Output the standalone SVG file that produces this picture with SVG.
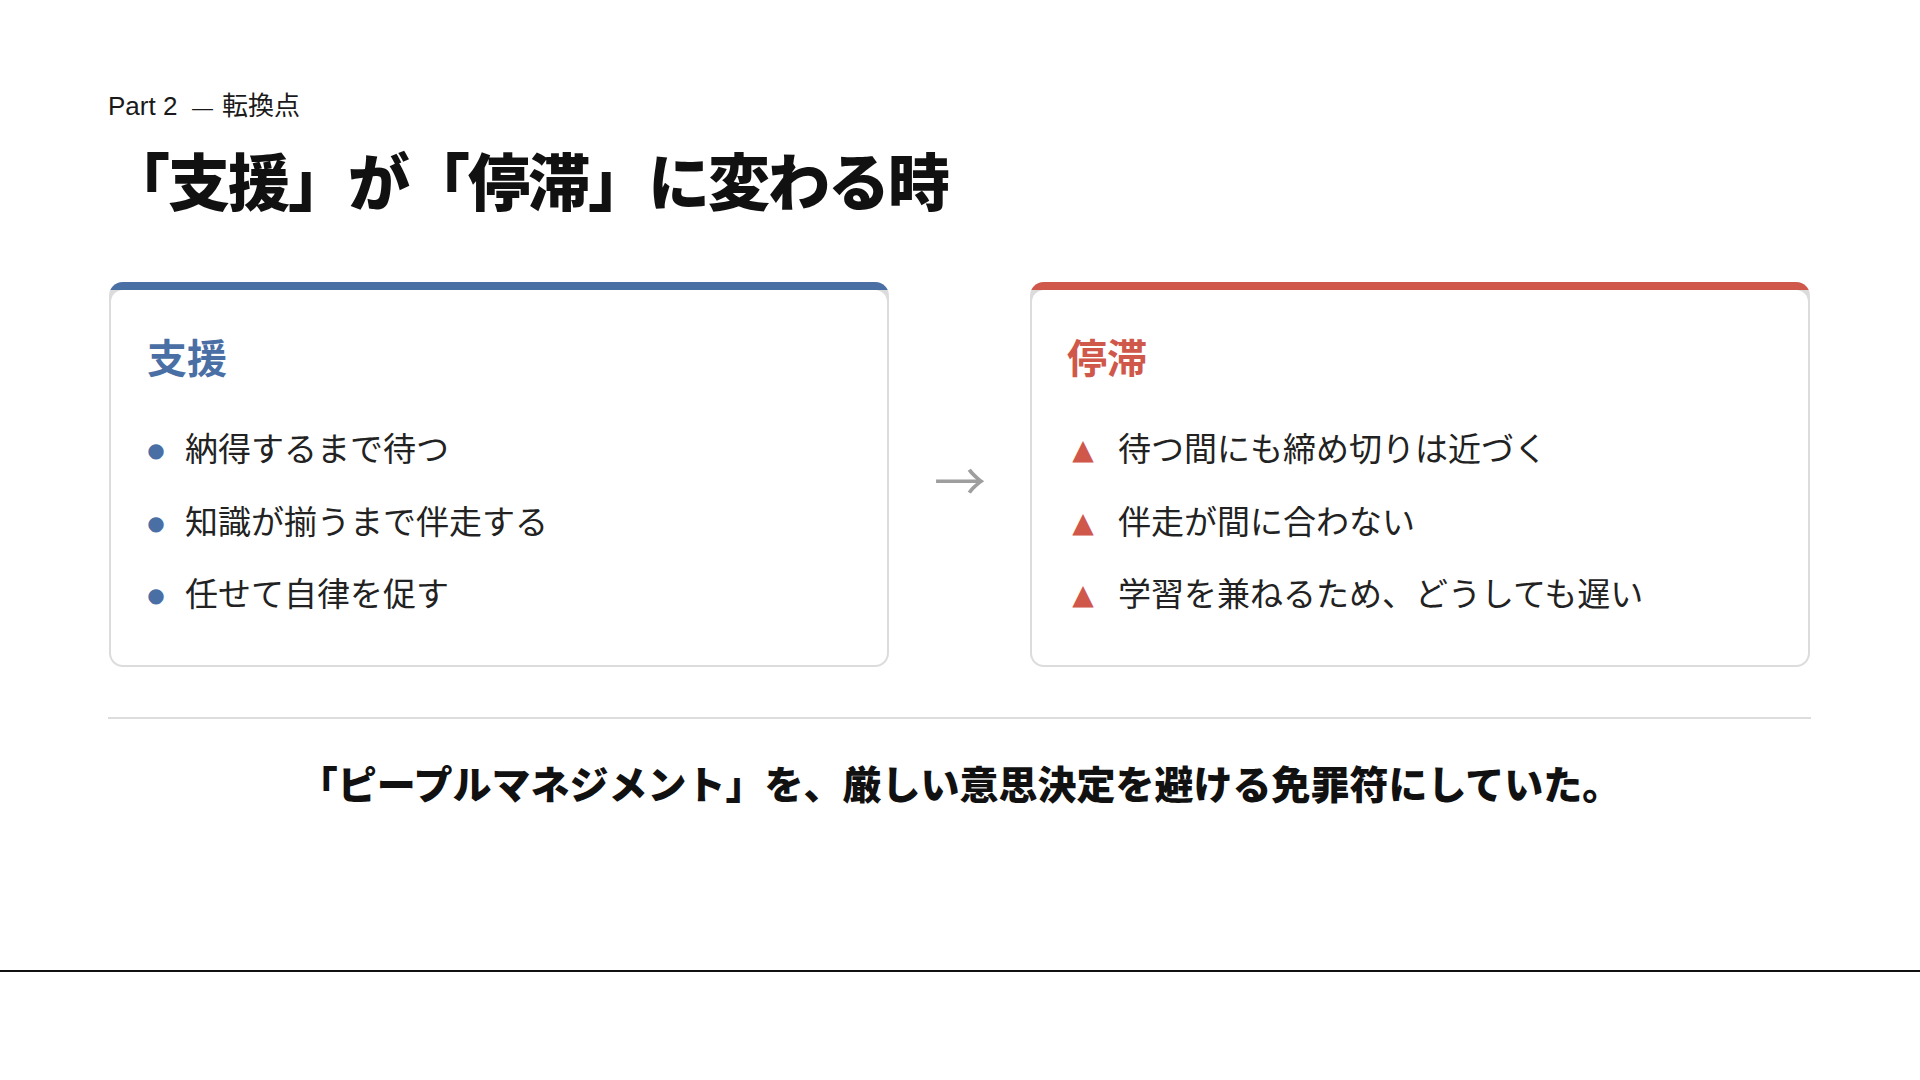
<svg xmlns="http://www.w3.org/2000/svg" width="1920" height="1080" viewBox="0 0 1920 1080">
<style>
.jp{font-family:"Noto Sans CJK JP","Noto Sans CJK SC",sans-serif}
.eyebrow{font-family:"Liberation Sans","Noto Sans CJK JP",sans-serif;font-size:26px;fill:#1a1a1a}
.title{font-size:62px;font-weight:900;fill:#111;letter-spacing:-2px}
.ctitle{font-size:40px;font-weight:700}
.item{font-size:33px;fill:#222}
.blue{fill:#4a6fa5}
.red{fill:#d0584b}
.bullet{font-family:"DejaVu Sans",sans-serif}
.border{fill:#dcdcdc}
.inner{fill:#ffffff}
.concl{font-size:39px;font-weight:900;fill:#111}
</style>
<defs>
<clipPath id="clipL"><rect x="109" y="282" width="780" height="385" rx="14"/></clipPath>
<clipPath id="clipR"><rect x="1030" y="282" width="780" height="385" rx="14"/></clipPath>
</defs>
<rect width="1920" height="1080" fill="#ffffff"/>

<g id="header">
<text class="eyebrow" y="115"><tspan x="108">Part 2</tspan><tspan x="192" font-size="21">—</tspan><tspan class="jp" x="222">転換点</tspan></text>
<text class="jp title" x="108" y="206">「支援」が「停滞」に変わる時</text>
</g>

<g id="card-support">
<rect class="border" x="109" y="282" width="780" height="385" rx="14"/>
<rect class="blue" x="109" y="282" width="780" height="8" clip-path="url(#clipL)"/>
<rect class="inner" x="111" y="290" width="776" height="375" rx="12"/>
<text class="jp ctitle blue" x="147" y="373">支援</text>
<text class="bullet blue" x="156" y="457" font-size="20" text-anchor="middle">●</text>
<text class="jp item" x="185" y="461">納得するまで待つ</text>
<text class="bullet blue" x="156" y="530" font-size="20" text-anchor="middle">●</text>
<text class="jp item" x="185" y="534">知識が揃うまで伴走する</text>
<text class="bullet blue" x="156" y="602" font-size="20" text-anchor="middle">●</text>
<text class="jp item" x="185" y="606">任せて自律を促す</text>
</g>

<g id="connectors">
<text class="jp" x="960" y="501" font-size="52" fill="#9e9e9e" text-anchor="middle">→</text>
</g>

<g id="card-stagnation">
<rect class="border" x="1030" y="282" width="780" height="385" rx="14"/>
<rect class="red" x="1030" y="282" width="780" height="8" clip-path="url(#clipR)"/>
<rect class="inner" x="1032" y="290" width="776" height="375" rx="12"/>
<text class="jp ctitle red" x="1067" y="373">停滞</text>
<text class="bullet red" x="1083" y="459" font-size="28" text-anchor="middle">▲</text>
<text class="jp item" x="1118" y="461">待つ間にも締め切りは近づく</text>
<text class="bullet red" x="1083" y="532" font-size="28" text-anchor="middle">▲</text>
<text class="jp item" x="1118" y="534">伴走が間に合わない</text>
<text class="bullet red" x="1083" y="604" font-size="28" text-anchor="middle">▲</text>
<text class="jp item" x="1118" y="606">学習を兼ねるため、どうしても遅い</text>
</g>

<g id="conclusion">
<rect x="108" y="717" width="1703" height="2" fill="#dddddd"/>
<text class="jp concl" x="960" y="799" text-anchor="middle">「ピープルマネジメント」を、厳しい意思決定を避ける免罪符にしていた。</text>
</g>

<rect id="footer-line" x="0" y="970" width="1920" height="2" fill="#111111"/>
</svg>
